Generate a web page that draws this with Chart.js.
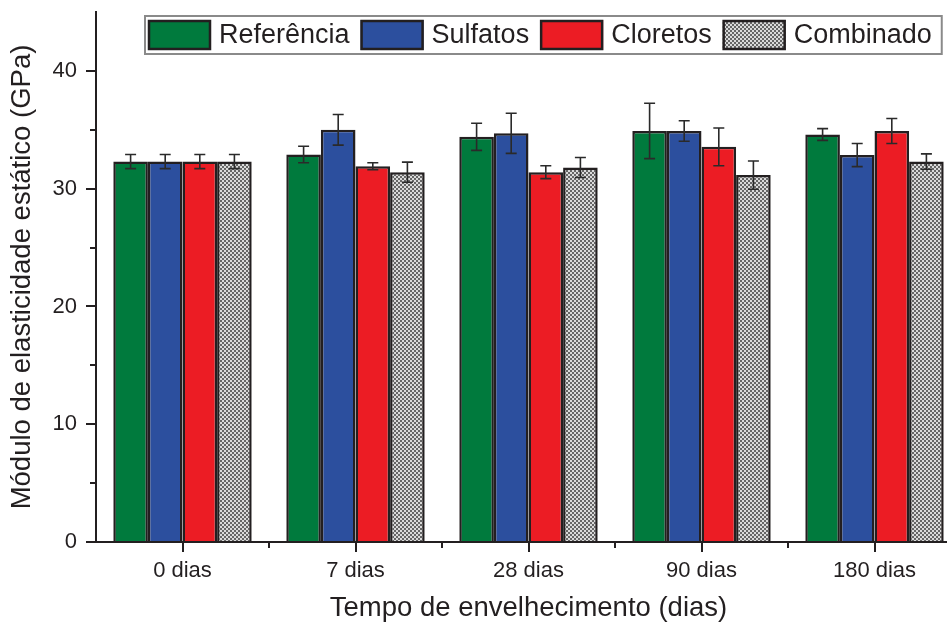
<!DOCTYPE html>
<html>
<head>
<meta charset="utf-8">
<script src="https://cdn.jsdelivr.net/npm/chart.js@4"></script>
<style>
  html, body { margin: 0; padding: 0; background: #fff; overflow: hidden; }
  #wrap { width: 961px; height: 623px; }
</style>
</head>
<body>
<div id="wrap"><canvas id="c" width="961" height="623"></canvas></div>
<script>
const categories = ['0 dias', '7 dias', '28 dias', '90 dias', '180 dias'];
const seriesNames = ['Referência', 'Sulfatos', 'Cloretos', 'Combinado'];
const referencia    = [32.3, 32.9, 34.4, 34.9, 34.6];
const referenciaErr = [0.6, 0.7, 1.15, 2.35, 0.5];
const sulfatos      = [32.3, 35.0, 34.7, 34.9, 32.85];
const sulfatosErr   = [0.6, 1.3, 1.7, 0.87, 0.98];
const cloretos      = [32.3, 31.9, 31.4, 33.55, 34.9];
const cloretosErr   = [0.6, 0.3, 0.55, 1.6, 1.06];
const combinado     = [32.3, 31.4, 31.8, 31.15, 32.3];
const combinadoErr  = [0.6, 0.85, 0.85, 1.2, 0.65];
const yTickValues   = [0, 10, 20, 30, 40];
const yMinorValues  = [5, 15, 25, 35];

const FONT = "'Liberation Sans', Arial, sans-serif";
const INK = '#231f20';

// checkerboard pattern for "Combinado"
const pc = document.createElement('canvas');
pc.width = 4; pc.height = 4;
const pctx = pc.getContext('2d');
pctx.fillStyle = '#dadada'; pctx.fillRect(0, 0, 4, 4);
pctx.fillStyle = '#666666'; pctx.fillRect(0, 0, 2, 2); pctx.fillRect(2, 2, 2, 2);
const checker = document.getElementById('c').getContext('2d').createPattern(pc, 'repeat');

const fills = ['#007a3d', '#2c4f9e', '#ec1c24', checker];
const values = [referencia, sulfatos, cloretos, combinado];
const errors = [referenciaErr, sulfatosErr, cloretosErr, combinadoErr];

const errorBars = {
  id: 'errorBars',
  afterDatasetsDraw(chart) {
    const ctx = chart.ctx, y = chart.scales.y;
    ctx.save();
    ctx.strokeStyle = '#2a2a2a';
    ctx.lineWidth = 1.6;
    chart.data.datasets.forEach((ds, di) => {
      const meta = chart.getDatasetMeta(di);
      meta.data.forEach((bar, i) => {
        const v = ds.data[i], e = ds.errors[i];
        const yt = y.getPixelForValue(v + e), yb = y.getPixelForValue(v - e);
        const x = bar.x, cw = 5.5;
        ctx.beginPath();
        ctx.moveTo(x, yt); ctx.lineTo(x, yb);
        ctx.moveTo(x - cw, yt); ctx.lineTo(x + cw, yt);
        ctx.moveTo(x - cw, yb); ctx.lineTo(x + cw, yb);
        ctx.stroke();
      });
    });
    ctx.restore();
  }
};

const minorTicks = {
  id: 'minorTicks',
  afterDraw(chart) {
    const ctx = chart.ctx, x = chart.scales.x, y = chart.scales.y;
    const a = chart.chartArea;
    ctx.save();
    ctx.strokeStyle = INK;
    ctx.lineWidth = 2;
    ctx.beginPath();
    yMinorValues.forEach(v => {
      const py = Math.round(y.getPixelForValue(v));
      ctx.moveTo(a.left - 6, py); ctx.lineTo(a.left, py);
    });
    for (let i = 0; i < categories.length - 1; i++) {
      const px = Math.round((x.getPixelForValue(i) + x.getPixelForValue(i + 1)) / 2);
      ctx.moveTo(px, a.bottom); ctx.lineTo(px, a.bottom + 6);
    }
    ctx.stroke();
    ctx.restore();
  }
};

const boxLegend = {
  id: 'boxLegend',
  afterDraw(chart) {
    const ctx = chart.ctx;
    ctx.save();
    ctx.font = '27px ' + FONT;
    const left = 145, top = 16, h = 38;
    let x = 148;
    const items = [];
    chart.data.datasets.forEach(ds => {
      const tw = ctx.measureText(ds.label).width;
      items.push({ x, tx: x + 71, label: ds.label, fill: ds.backgroundColor });
      x = x + 71 + tw + 11;
    });
    const right = x - 11 + 10;
    ctx.fillStyle = '#fff';
    ctx.fillRect(left, top, right - left, h);
    ctx.strokeStyle = '#8a8a8a';
    ctx.lineWidth = 2;
    ctx.strokeRect(left, top, right - left, h);
    items.forEach(it => {
      ctx.fillStyle = it.fill;
      ctx.fillRect(it.x, 20, 63, 30);
      ctx.strokeStyle = INK;
      ctx.lineWidth = 2.5;
      ctx.strokeRect(it.x + 1, 21, 61, 28);
      ctx.fillStyle = INK;
      ctx.textBaseline = 'alphabetic';
      ctx.fillText(it.label, it.tx, 43);
    });
    ctx.restore();
  }
};

new Chart(document.getElementById('c'), {
  type: 'bar',
  data: {
    labels: categories,
    datasets: seriesNames.map((name, i) => ({
      label: name,
      data: values[i],
      errors: errors[i],
      backgroundColor: fills[i],
      borderColor: INK,
      borderWidth: 2.5,
      borderSkipped: 'bottom',
      categoryPercentage: 0.8,
      barPercentage: 1.0
    }))
  },
  options: {
    responsive: false,
    animation: false,
    devicePixelRatio: 1,
    layout: { padding: { top: 12, right: 0, left: 0, bottom: 0 } },
    plugins: { legend: { display: false }, tooltip: { enabled: false } },
    scales: {
      x: {
        grid: { display: true, drawOnChartArea: false, drawTicks: true, tickLength: 10, offset: false, color: INK, lineWidth: 2 },
        border: { display: true, color: INK, width: 2 },
        ticks: { color: INK, font: { family: FONT, size: 22 }, padding: 6, maxRotation: 0 },
        title: { display: true, text: 'Tempo de envelhecimento (dias)', color: INK,
                 font: { family: FONT, size: 27.5, lineHeight: 1 }, padding: { top: 0, bottom: 1 } },
        afterFit(s) { s.height = 81; s.paddingLeft = 0; s.paddingRight = 0; }
      },
      y: {
        min: 0, max: 45,
        afterBuildTicks(s) { s.ticks = yTickValues.map(v => ({ value: v })); },
        grid: { display: true, drawOnChartArea: false, drawTicks: true, tickLength: 10, color: INK, lineWidth: 2 },
        border: { display: true, color: INK, width: 2 },
        ticks: { color: INK, font: { family: FONT, size: 22 }, padding: 9 },
        title: { display: true, text: 'Módulo de elasticidade estático (GPa)', color: INK,
                 font: { family: FONT, size: 27.5, lineHeight: 1 }, padding: { top: 9, bottom: 0 } },
        afterFit(s) { s.width = 96; s.paddingTop = 0; s.paddingBottom = 0; }
      }
    }
  },
  plugins: [errorBars, minorTicks, boxLegend]
});
</script>
</body>
</html>
